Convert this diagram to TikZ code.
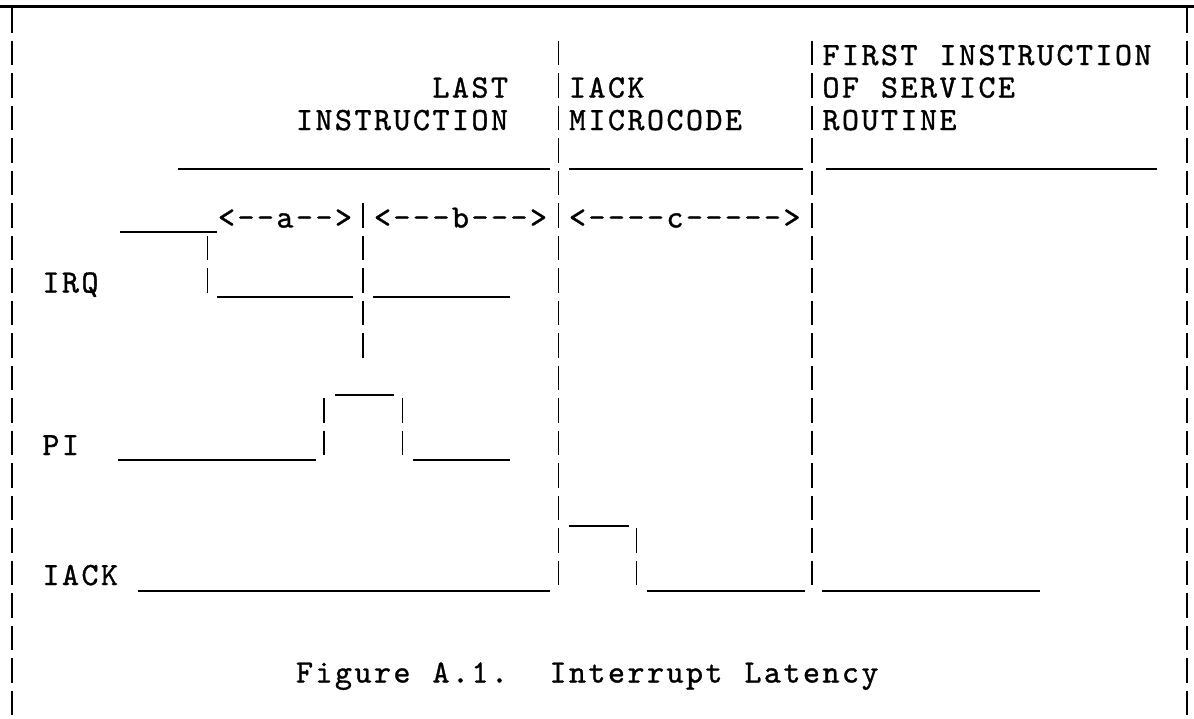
\documentclass[tikz,border=0pt]{standalone}
\usepackage{fontspec}
\newfontfamily\twfont{lmmono10-regular.otf}[FakeBold=1.0]
% Typewriter grid: every character sits in a fixed-width cell
\newlength\cellw
\setlength\cellw{9.75pt}
\def\twaux#1{\ifx\relax#1\else\ifx~#1\hbox to\cellw{\hfil}\else\hbox to\cellw{\hss#1\hss}\fi\expandafter\twaux\fi}
\newcommand\gridtext[1]{\twaux#1\relax}
\tikzset{
  tw/.style={anchor=base west, inner sep=0pt, outer sep=0pt,
             font=\twfont\fontsize{16.2}{18}\selectfont},
  sig/.style={line width=1pt},
  frame/.style={line width=1.3pt},
  bar/.style={line width=0.9pt, dash pattern=on 12.25pt off 4pt},
}
\begin{document}
\begin{tikzpicture}[x=0.5pt, y=-0.5pt]
  \fill[white] (0,0) rectangle (1194,718);
  \useasboundingbox (0,0) rectangle (1194,718);

  % top rule of the frame
  \draw[frame] (0,6.5) -- (1194,6.5);

  % vertical bars (typed as rows of '|')
  \draw[bar] (12,8) -- (12,715);          % left frame
  \draw[bar] (1187,8) -- (1187,715);      % right frame
  \draw[bar] (558.5,40.5) -- (558.5,585); % end of last instruction
  \draw[bar] (812,40.5) -- (812,585);     % end of IACK microcode
  \draw[bar] (363,203) -- (363,357.5);    % PI sampling point
  \draw[bar] (207.5,235.5) -- (207.5,292.5); % IRQ falling edge
  \draw[bar] (324,398) -- (324,455);      % PI rising edge
  \draw[bar] (402.5,398) -- (402.5,455);  % PI falling edge
  \draw[bar] (636.5,528) -- (636.5,585);  % IACK falling edge

  % column headings
  \node[tw] (first)   at (821.25,65)  {\gridtext{FIRST~INSTRUCTION}};
  \node[tw] (last)    at (431.25,97.5) {\gridtext{LAST}};
  \node[tw] (iack)    at (567.75,97.5) {\gridtext{IACK}};
  \node[tw] (service) at (821.25,97.5) {\gridtext{OF~SERVICE}};
  \node[tw] (instr)   at (294.75,130) {\gridtext{INSTRUCTION}};
  \node[tw] (micro)   at (567.75,130) {\gridtext{MICROCODE}};
  \node[tw] (routine) at (821.25,130) {\gridtext{ROUTINE}};

  % heading underlines
  \draw[sig] (178,168.5) -- (550,168.5);
  \draw[sig] (569,168.5) -- (803,168.5);
  \draw[sig] (826,168.5) -- (1157,168.5);

  % interval markers
  \node[tw] (ia) at (216.75,227.5) {\gridtext{<--a-->}};
  \node[tw] (ib) at (372.75,227.5) {\gridtext{<---b--->}};
  \node[tw] (ic) at (567.75,227.5) {\gridtext{<----c----->}};

  % signal names
  \node[tw] (irq)  at (41.25,292.5) {\gridtext{IRQ}};
  \node[tw] (pi)   at (41.25,455)   {\gridtext{PI}};
  \node[tw] (ack)  at (41.25,585)   {\gridtext{IACK}};

  % IRQ waveform
  \draw[sig] (120,232) -- (217,232);
  \draw[sig] (217,297) -- (353,297);
  \draw[sig] (373,297) -- (510,297);

  % PI waveform
  \draw[sig] (118,459.5) -- (316,459.5);
  \draw[sig] (335,395) -- (394,395);
  \draw[sig] (413,459.5) -- (510,459.5);

  % IACK waveform
  \draw[sig] (138,590.5) -- (550,590.5);
  \draw[sig] (569,525.5) -- (629,525.5);
  \draw[sig] (647,590.5) -- (805,590.5);
  \draw[sig] (822,590.5) -- (1040,590.5);

  % caption
  \node[tw] (caption) at (294.75,682.5) {\gridtext{Figure~A.1.~~Interrupt~Latency}};
\end{tikzpicture}
\end{document}
